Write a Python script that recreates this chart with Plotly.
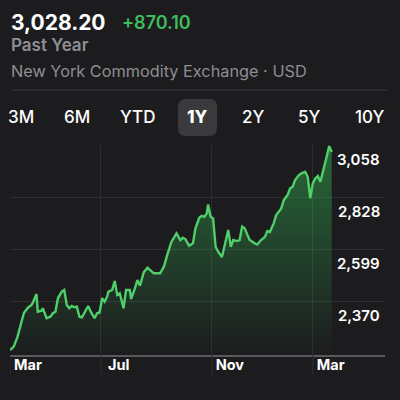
import plotly.graph_objects as go

# ---- data ----
sessions = [0, 3, 6, 9, 11, 14, 17, 18, 21, 22, 25, 26, 29, 32, 34, 36, 38, 41, 43, 45,
            47, 49, 51, 53, 55, 57, 59, 62, 64, 67, 69, 71, 73, 75, 77, 78, 81, 83, 85, 87,
            90, 92, 95, 96, 99, 101, 103, 106, 109, 112, 114, 119, 122, 125, 128, 132, 135,
            137, 139, 142, 145, 147, 150, 152, 154, 156, 157, 159, 161, 163, 165, 168, 169,
            171, 173, 175, 177, 180, 182, 184, 186, 188, 190, 194, 196, 199, 202, 204, 206,
            209, 211, 215, 217, 220, 222, 224, 226, 229, 231, 234, 236, 238, 240, 242, 244,
            246, 249, 251, 253, 255]
prices = [2158.1, 2173.7, 2217.6, 2277.6, 2321.5, 2343.4, 2356.6, 2365.3, 2404.8, 2327.2,
          2331.6, 2342.1, 2298.3, 2305.3, 2320.2, 2327.2, 2385.9, 2414.9, 2422.3, 2356.6,
          2342.1, 2352.2, 2346.5, 2349.1, 2305.3, 2302.6, 2320.2, 2352.2, 2327.2, 2298.3,
          2320.2, 2323.7, 2385.9, 2371.0, 2393.0, 2414.9, 2422.3, 2461.8, 2400.4, 2407.9,
          2342.1, 2422.3, 2422.3, 2382.9, 2429.8, 2466.2, 2441.2, 2499.9, 2520.1, 2505.6,
          2495.5, 2495.5, 2524.5, 2583.2, 2634.1, 2670.9, 2641.5, 2651.6, 2645.9, 2616.5,
          2627.0, 2692.8, 2739.3, 2748.0, 2743.7, 2758.6, 2798.0, 2743.7, 2736.7, 2612.1,
          2590.2, 2567.0, 2590.2, 2641.5, 2685.4, 2612.1, 2641.5, 2637.1, 2641.5, 2700.7,
          2692.8, 2666.5, 2641.5, 2627.0, 2621.8, 2641.5, 2654.7, 2681.0, 2676.6, 2714.7,
          2751.1, 2780.5, 2816.9, 2838.8, 2868.2, 2875.2, 2904.6, 2926.5, 2933.9, 2940.9,
          2919.0, 2824.3, 2890.1, 2912.0, 2922.1, 2897.1, 2955.9, 3006.7, 3053.6, 3028.2]
month_ticks = [0, 72, 160, 240]
month_labels = ["Mar", "Jul", "Nov", "Mar"]
price_ticks = [2370, 2599, 2828, 3058]
price_labels = ["2,370", "2,599", "2,828", "3,058"]
last_price = "3,028.20"
change = "+870.10"
ranges = ["3M", "6M", "YTD", "1Y", "2Y", "5Y", "10Y"]
selected = "1Y"

# ---- styling ----
BG = "#1c1c1e"
GREEN = "#4fcf6a"
FONT = "Inter"
W, H = 400, 400
L, R, T, B = 10, 385, 145, 355


def px(x):
    return x / W


def py(y):
    return 1 - y / H


def note(x, y, text, size, color, weight=400, xanchor="left"):
    return dict(xref="paper", yref="paper", x=px(x), y=py(y), text=text, showarrow=False,
                xanchor=xanchor, yanchor="middle",
                font=dict(family=FONT, size=size, color=color, weight=weight))


fig = go.Figure()
fig.add_trace(go.Scatter(
    x=sessions, y=prices, mode="lines",
    line=dict(color=GREEN, width=2.4),
    fill="tozeroy",
    fillgradient=dict(type="vertical", start=2137, stop=3058,
                      colorscale=[[0, "rgba(52,199,89,0.0)"], [1, "rgba(52,199,89,0.45)"]]),
    hoverinfo="skip",
))

annotations = [
    note(9, 22, last_price, 21, "#ffffff", 700),
    note(120, 22.5, change, 18, "#3dbd5c", 600),
    note(9, 45, "Past Year", 17, "#8e8e93", 600),
    note(9, 71, "New York Commodity Exchange · USD", 16.3, "#8e8e93", 400),
]

centers = [21, 77, 137, 197.5, 252.5, 309, 369.5]
for lab, cx in zip(ranges, centers):
    annotations.append(note(cx, 117.5, lab, 17, "#ffffff",
                            800 if lab == selected else 500, xanchor="center"))

for v, lab in zip(price_ticks, price_labels):
    annotations.append(dict(xref="paper", yref="y", x=px(381.5), y=v, yshift=-14, text=lab,
                            showarrow=False, xanchor="right", yanchor="middle",
                            font=dict(family=FONT, size=15, color="#ffffff", weight=600)))


def rounded_rect(x0, y0, x1, y1, r):
    X = lambda v: px(v)
    Y = lambda v: py(v)
    return (f"M {X(x0 + r)},{Y(y0)} L {X(x1 - r)},{Y(y0)} Q {X(x1)},{Y(y0)} {X(x1)},{Y(y0 + r)} "
            f"L {X(x1)},{Y(y1 - r)} Q {X(x1)},{Y(y1)} {X(x1 - r)},{Y(y1)} "
            f"L {X(x0 + r)},{Y(y1)} Q {X(x0)},{Y(y1)} {X(x0)},{Y(y1 - r)} "
            f"L {X(x0)},{Y(y0 + r)} Q {X(x0)},{Y(y0)} {X(x0 + r)},{Y(y0)} Z")


shapes = [
    dict(type="path", xref="paper", yref="paper", path=rounded_rect(178, 99, 217, 136, 8),
         fillcolor="#3a3a3c", line=dict(width=0), layer="below"),
    dict(type="line", xref="paper", yref="paper", x0=px(11), x1=px(387), y0=py(90), y1=py(90),
         line=dict(color="#38383a", width=1)),
]
for t in month_ticks:
    shapes.append(dict(type="line", xref="x", yref="paper", x0=t, x1=t, y0=py(355), y1=py(375),
                       line=dict(color="#2e2e30", width=1)))

fig.update_layout(
    width=W, height=H,
    margin=dict(l=0, r=0, t=0, b=0),
    paper_bgcolor=BG, plot_bgcolor=BG,
    showlegend=False,
    annotations=annotations,
    shapes=shapes,
    xaxis=dict(domain=[L / W, R / W],
               range=[0, (R - L) / 1.2616], tickvals=month_ticks, ticktext=month_labels,
               showgrid=True, gridcolor="#2e2e30", gridwidth=1, zeroline=False,
               showline=True, linecolor="#5a5a5e", linewidth=2, ticks="",
               ticklabelshift=18, ticklabelstandoff=-4,
               tickfont=dict(family=FONT, size=14.5, color="#ffffff", weight=700),
               fixedrange=True),
    yaxis=dict(domain=[1 - B / H, 1 - T / H],
               range=[2137, 3058.6], tickvals=price_ticks, showticklabels=False,
               showgrid=True, gridcolor="#2e2e30", gridwidth=1, zeroline=False,
               showline=False, ticks="", fixedrange=True),
)

post = ("document.body.style.margin='0';"
        "}).catch(function(e){document.body.style.margin='0';"
        "var p=document.createElement('pre');p.style.cssText='position:fixed;top:0;left:0;color:red;"
        "font-size:10px;white-space:pre-wrap;width:390px;z-index:99';"
        "p.textContent=String(e&&e.stack||e);document.body.appendChild(p);"
        "}).then(function(){")

fig.write_html("out.html", config={"displayModeBar": False}, post_script=post)
